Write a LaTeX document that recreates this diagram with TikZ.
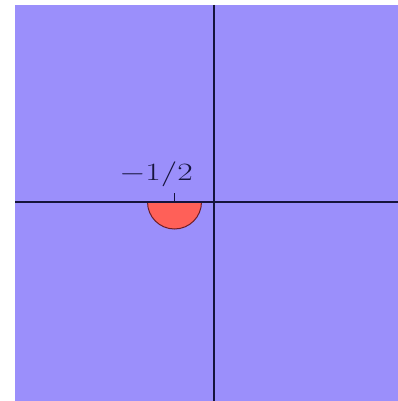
\documentclass[tikz,border=0pt]{standalone}
\usepackage{graphicx}
\definecolor{planeblue}{RGB}{155,143,251}
\definecolor{discred}{RGB}{255,96,88}
\definecolor{axiscol}{RGB}{22,20,60}
\definecolor{discedge}{RGB}{110,30,40}
\tikzset{
  axisline/.style={draw=axiscol, line width=1.5pt},
  discstyle/.style={fill=discred, draw=discedge, line width=1pt},
  lbl/.style={text=axiscol, inner sep=0pt, anchor=base}
}
\begin{document}
\begin{tikzpicture}[x=1pt,y=-1pt]
\useasboundingbox (0,0) rectangle (398,401);
\fill[planeblue] (15,5) rectangle (398,401);
\coordinate (xl) at (15,202);
\coordinate (xr) at (398,202);
\coordinate (yt) at (214,5);
\coordinate (yb) at (214,401);
\coordinate (c) at (174.5,202);
\coordinate (tk) at (174.5,193);
\draw[discstyle] (147.5,202) arc[start angle=180, end angle=360, radius=27, y radius=-27] -- cycle;
\draw[axisline] (xl) -- (xr);
\draw[axisline] (yt) -- (yb);
\draw[axiscol, line width=1pt] (c) -- (tk);
\node[lbl] (lab) at (156,180.5) {\scalebox{1.35}[1]{\fontsize{24.5}{28}\selectfont$-1/2$}};
\end{tikzpicture}
\end{document}
